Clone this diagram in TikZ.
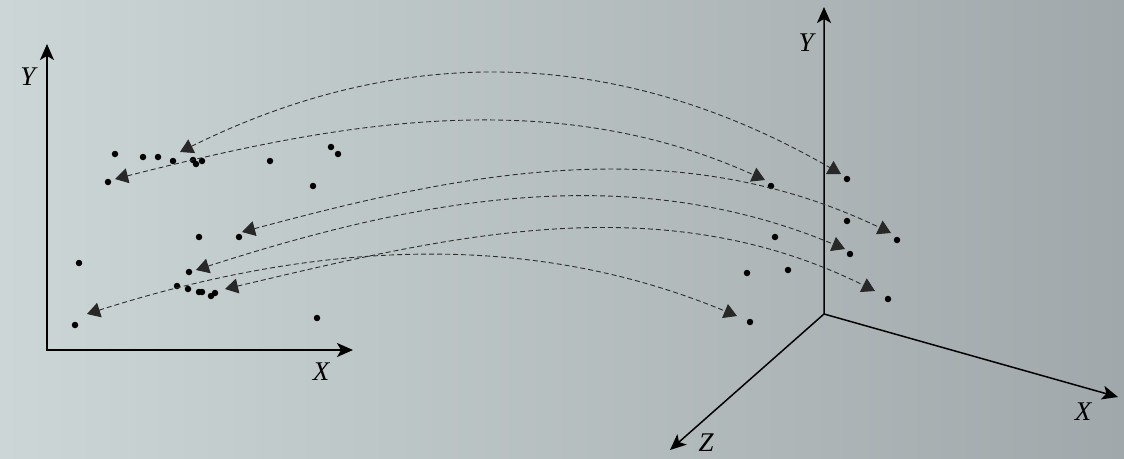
\documentclass[tikz,border=0pt]{standalone}
\usepackage{fontspec}
\setmainfont{Liberation Serif}
\usetikzlibrary{arrows.meta}
\definecolor{bgL}{RGB}{204,214,214}
\definecolor{bgM}{RGB}{186,195,195}
\definecolor{bgR}{RGB}{161,168,171}
\definecolor{tricol}{RGB}{40,40,40}
\definecolor{linkcol}{RGB}{45,45,45}
\begin{document}
\begin{tikzpicture}[x=1pt,y=-1pt,
  axisline/.style={line width=1.5pt, line join=miter},
  axishead/.style={-{Stealth[length=16pt,width=14pt,inset=4pt]}},
  axisboth/.style={{Stealth[length=16pt,width=14pt,inset=4pt]}-{Stealth[length=16pt,width=14pt,inset=4pt]}},
  link/.style={draw=linkcol, line width=0.9pt, dash pattern=on 5pt off 3pt,
    {Triangle[length=13pt,width=15pt,color=tricol,fill=tricol]}-{Triangle[length=13pt,width=15pt,color=tricol,fill=tricol]}},
  pt/.style={circle, fill=black, inner sep=0pt, minimum size=6.5pt},
  lab/.style={font=\fontsize{27}{30}\selectfont\itshape, inner sep=0pt}]
\useasboundingbox (0,0) rectangle (1124,458);
\shade[left color=bgL, middle color=bgM, right color=bgR] (0,0) rectangle (1124,458);

% left axes
\coordinate (O1) at (47,350);
\coordinate (Y1) at (47,44);
\coordinate (X1) at (353,350);
\draw[axisline,axisboth] (Y1) -- (O1) -- (X1);
\node[lab] (ylabL) at (28,77) {Y};
\node[lab] (xlabL) at (321,372) {X};

% right axes
\coordinate (O2) at (824,314);
\coordinate (Y2) at (824,7);
\coordinate (X2) at (1118,397);
\coordinate (Z2) at (670,450);
\draw[axisline,axisboth] (Y2) -- (O2) -- (X2);
\draw[axisline,axishead] (O2) -- (Z2);
\node[lab] (ylabR) at (806,43) {Y};
\node[lab] (xlabR) at (1083,412) {X};
\node[lab] (zlabR) at (706,443) {Z};

% left points
\foreach [count=\i] \p in {(115,154),(143,157),(158,157),(173,161),(193,160),(196,164),(202,161),(270,161),(331,147),(338,154),(108,182),(313,186),(199,237),(239,237),(79,263),(189,272),(177,286),(188,289),(199,292),(202,292),(211,296),(215,293),(317,318),(75,325)}
  \node[pt] (lp\i) at \p {};

% right points
\foreach [count=\i] \p in {(847,179),(771,186),(847,221),(897,240),(775,237),(850,254),(747,273),(788,270),(888,299),(750,322)}
  \node[pt] (rp\i) at \p {};

% connector ends
\coordinate (L1) at (180,152); \coordinate (R1) at (841,174);
\coordinate (L2) at (115,179); \coordinate (R2) at (765,180);
\coordinate (L3) at (242,232); \coordinate (R3) at (891,233);
\coordinate (L4) at (196,270); \coordinate (R4) at (845,249);
\coordinate (L5) at (225,289); \coordinate (R5) at (875,291);
\coordinate (L6) at (87,314);  \coordinate (R6) at (737,316);

\draw[link] (L1) .. controls (402,42) and (619,46) .. (R1);
\draw[link] (L2) .. controls (332,124) and (548,82) .. (R2);
\draw[link] (L3) .. controls (460,173.5) and (673,128.5) .. (R3);
\draw[link] (L4) .. controls (414,200) and (627,158) .. (R4);
\draw[link] (L5) .. controls (442,238) and (658,183) .. (R5);
\draw[link] (L6) .. controls (304,245) and (520,226) .. (R6);
\end{tikzpicture}
\end{document}
